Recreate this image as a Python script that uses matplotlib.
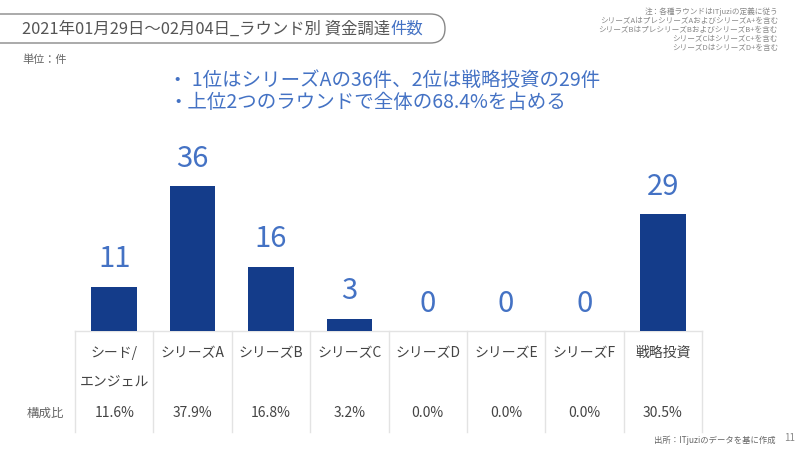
import matplotlib
matplotlib.use("Agg")
import matplotlib.pyplot as plt
from matplotlib.patches import FancyBboxPatch

plt.rcParams['font.family'] = ['Noto Sans CJK JP', 'DejaVu Sans']

categories = ["シード/\nエンジェル", "シリーズA", "シリーズB", "シリーズC",
              "シリーズD", "シリーズE", "シリーズF", "戦略投資"]
counts = [11, 36, 16, 3, 0, 0, 0, 29]
shares = ["11.6%", "37.9%", "16.8%", "3.2%", "0.0%", "0.0%", "0.0%", "30.5%"]
notes = ["注：各種ラウンドはITjuziの定義に従う",
         "シリーズAはプレシリーズAおよびシリーズA+を含む",
         "シリーズBはプレシリーズBおよびシリーズB+を含む",
         "シリーズCはシリーズC+を含む",
         "シリーズDはシリーズD+を含む"]

BAR = "#143C8A"
BLUE = "#4472C4"
GRID = "#E3E3E3"
GRAY = "#666666"

W, H = 800, 450
fig = plt.figure(figsize=(8, 4.5), dpi=100)

# overlay in pixel coordinates for the page decorations
page = fig.add_axes([0, 0, 1, 1])
page.set_xlim(0, W)
page.set_ylim(H, 0)
page.axis("off")

# bars
x0, x1 = 75, 702
base, top = 331, 170
ax = fig.add_axes([x0 / W, 1 - base / H, (x1 - x0) / W, (base - top) / H])
xs = range(len(counts))
ax.bar(xs, counts, width=0.58, color=BAR)
ax.set_xlim(-0.5, len(counts) - 0.5)
ax.set_ylim(0, 40)
ax.axis("off")
for i, v in zip(xs, counts):
    ax.annotate(str(v), (i, v), xytext=(0, 9), textcoords="offset points",
                ha="center", va="bottom", fontsize=21, color=BLUE)

# table below the bars
page.plot([x0, x1], [base, base], color=GRID, lw=1)
step = (x1 - x0) / len(counts)
for k in range(len(counts) + 1):
    page.plot([x0 + k * step] * 2, [base, 432], color=GRID, lw=1)
for i, (c, s) in enumerate(zip(categories, shares)):
    cx = x0 + (i + 0.5) * step
    page.text(cx, 346, c, ha="center", va="top", fontsize=10, color="#444444",
              linespacing=2.3)
    page.text(cx, 413, s, ha="center", va="center", fontsize=10, color="#444444")
page.text(45, 413, "構成比", ha="center", va="center", fontsize=9, color=GRAY)

# title box
box = FancyBboxPatch((-30, 14), 475, 29,
                     boxstyle="round,pad=0,rounding_size=14.5",
                     fill=False, ec="#888888", lw=1)
page.add_patch(box)
t = page.text(22, 29, "2021年01月29日～02月04日_ラウンド別 資金調達",
              ha="left", va="center", fontsize=11.8, color="#555555")
fig.canvas.draw()
bb = t.get_window_extent()
fig.text(bb.x1 / W, 1 - 29 / H, "件数", ha="left", va="center",
         fontsize=11.8, color=BLUE)

page.text(22, 60, "単位：件", ha="left", va="center", fontsize=8, color=GRAY)

# key messages
page.text(168, 80, "・ 1位はシリーズAの36件、2位は戦略投資の29件",
          ha="left", va="center", fontsize=14, color=BLUE)
page.text(168, 103, "・上位2つのラウンドで全体の68.4%を占める",
          ha="left", va="center", fontsize=14, color=BLUE)

# notes
for j, n in enumerate(notes):
    page.text(778, 12 + j * 9, n, ha="right", va="center",
              fontsize=5.5, color="#888888")

page.text(776, 440, "出所：ITjuziのデータを基に作成", ha="right",
          va="center", fontsize=6, color=GRAY)
page.text(784, 438, "11", ha="left", va="center", fontsize=7, color="#888888")

fig.savefig("out.png", dpi=100)
